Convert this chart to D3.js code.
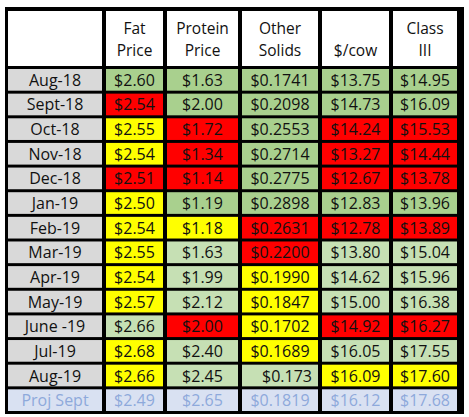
<!DOCTYPE html>
<html><head><meta charset="utf-8">
<script src="https://cdn.jsdelivr.net/npm/d3@7"></script>
<style>body{margin:0;background:#fff}</style></head>
<body><svg id="c" width="469" height="417"></svg>
<script>
const months=["Aug-18","Sept-18","Oct-18","Nov-18","Dec-18","Jan-19","Feb-19","Mar-19","Apr-19","May-19","June -19","Jul-19","Aug-19","Proj Sept"];
const headers=[["",""],["Fat","Price"],["Protein","Price"],["Other","Solids"],["","$/cow"],["Class","III"]];
const fat=["$2.60","$2.54","$2.55","$2.54","$2.51","$2.50","$2.54","$2.55","$2.54","$2.57","$2.66","$2.68","$2.66","$2.49"];
const protein=["$1.63","$2.00","$1.72","$1.34","$1.14","$1.19","$1.18","$1.63","$1.99","$2.12","$2.00","$2.40","$2.45","$2.65"];
const other=["$0.1741","$0.2098","$0.2553","$0.2714","$0.2775","$0.2898","$0.2631","$0.2200","$0.1990","$0.1847","$0.1702","$0.1689","$0.173","$0.1819"];
const perCow=["$13.75","$14.73","$14.24","$13.27","$12.67","$12.83","$12.78","$13.80","$14.62","$15.00","$14.92","$16.05","$16.09","$16.12"];
const class3=["$14.95","$16.09","$15.53","$14.44","$13.78","$13.96","$13.89","$15.04","$15.96","$16.38","$16.27","$17.55","$17.60","$17.68"];
// status per row: G=dark green, g=light green, R=red, Y=yellow, P=projection
const status=["GGGGG","RGGGG","YRGRR","YRGRR","RRGRR","YGGGG","YYRRR","YgRgg","YgYgg","YgYgg","gRYRR","YgYgg","YggYY","PPPPP"];
const cols=[fat,protein,other,perCow,class3];

const fill={G:"#a9d08e",g:"#c6e0b4",R:"#ff0000",Y:"#ffff00",P:"#d9e1f2"};
const svg=d3.select("#c");
const colEdges=[8,106,167,242,322,393,461];
const x=i=>colEdges[i], w=i=>colEdges[i+1]-colEdges[i]-4;
const y=d3.scaleBand().domain(d3.range(months.length)).range([69,411]).paddingInner(0.12);
svg.append("rect").attr("x",5).attr("y",7).attr("width",459).attr("height",407).attr("fill","#000");
const font="'Open Sans', 'Liberation Sans', sans-serif";
headers.forEach((h,i)=>{
  svg.append("rect").attr("x",x(i)).attr("y",11).attr("width",w(i)).attr("height",55).attr("fill","#fff");
  h.forEach((t,k)=>svg.append("text").attr("x",x(i)+w(i)/2).attr("y",34+k*22).attr("text-anchor","middle")
    .attr("font-family",font).attr("font-size",15.5).attr("fill","#111").text(t));
});
months.forEach((m,r)=>{
  const proj=r===months.length-1;
  const yy=y(r),hh=y.bandwidth();
  svg.append("rect").attr("x",x(0)).attr("y",yy).attr("width",w(0)).attr("height",hh).attr("fill",proj?fill.P:"#d9d9d9");
  svg.append("text").attr("x",x(0)+w(0)/2).attr("y",yy+hh/2+6).attr("text-anchor","middle")
    .attr("font-family",font).attr("font-size",16).attr("fill",proj?"#8ea9db":"#111").text(m);
  cols.forEach((c,j)=>{
    const s=status[r][j];
    const i=j+1;
    svg.append("rect").attr("x",x(i)).attr("y",yy).attr("width",w(i)).attr("height",hh).attr("fill",fill[s]);
    const right=c[r]==="$0.173";
    svg.append("text").attr("x",right?x(i)+w(i)-6:x(i)+w(i)/2).attr("y",yy+hh/2+6)
      .attr("text-anchor",right?"end":"middle")
      .attr("font-family",font).attr("font-size",16).attr("fill",proj?"#8ea9db":"#111").text(c[r]);
  });
});
</script></body></html>
